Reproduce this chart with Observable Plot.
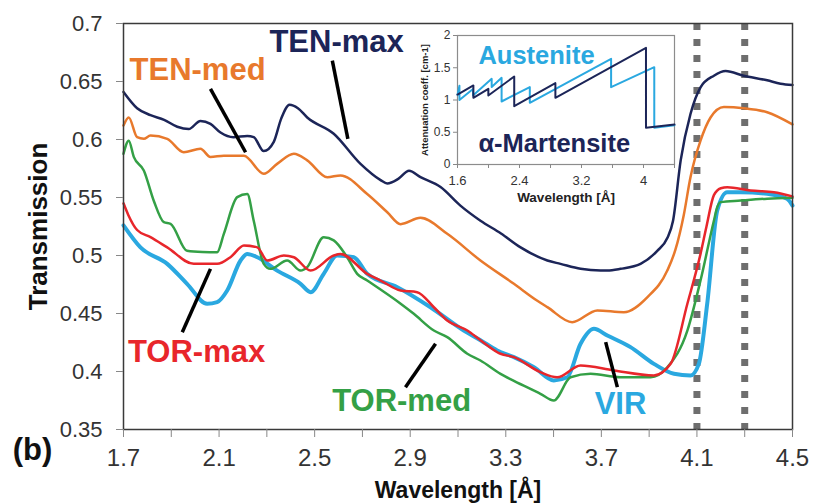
<!DOCTYPE html>
<html>
<head>
<meta charset="utf-8">
<script src="https://cdn.jsdelivr.net/npm/d3@7"></script>
<script src="https://cdn.jsdelivr.net/npm/@observablehq/plot@0.6"></script>
<style>
  html, body { margin: 0; padding: 0; background: #ffffff; }
  #wrap { position: relative; width: 814px; height: 504px; overflow: hidden; font-family: "Liberation Sans", Arial, sans-serif; }
  #inset { position: absolute; left: 415px; top: 25px; }
</style>
</head>
<body>
<div id="wrap"><div id="main"></div><div id="inset"></div></div>
<script>
// ---------- main chart data ----------
const xTicks = [1.7, 2.1, 2.5, 2.9, 3.3, 3.7, 4.1, 4.5];
const xTickLabels = ["1.7", "2.1", "2.5", "2.9", "3.3", "3.7", "4.1", "4.5"];
const xMinorTicks = [1.9, 2.3, 2.7, 3.1, 3.5, 3.9, 4.3];
const yTicks = [0.35, 0.4, 0.45, 0.5, 0.55, 0.6, 0.65, 0.7];
const yTickLabels = ["0.35", "0.4", "0.45", "0.5", "0.55", "0.6", "0.65", "0.7"];
const edgeLines = [4.1, 4.3];

const tenMaxWl = [1.70,1.757,1.813,1.87,1.925,1.973,2.022,2.064,2.106,2.16,2.218,2.245,2.287,2.329,2.36,2.395,2.43,2.469,2.58,2.692,2.776,2.804,2.85,2.895,2.943,3.027,3.11,3.194,3.28,3.362,3.474,3.529,3.613,3.697,3.725,3.78,3.864,3.934,3.976,4.0,4.032,4.073,4.115,4.171,4.22,4.296,4.394,4.45,4.5];
const tenMaxT  = [0.641,0.627,0.621,0.617,0.611,0.609,0.616,0.6135,0.606,0.602,0.603,0.602,0.590,0.598,0.618,0.630,0.627,0.619,0.605,0.579,0.565,0.562,0.566,0.573,0.5675,0.559,0.543,0.530,0.519,0.507,0.4957,0.4928,0.4885,0.487,0.487,0.4885,0.4928,0.504,0.515,0.530,0.582,0.622,0.645,0.655,0.659,0.655,0.651,0.648,0.647];

const tenMedWl = [1.70,1.722,1.757,1.785,1.813,1.883,1.952,2.022,2.064,2.12,2.204,2.287,2.343,2.413,2.469,2.553,2.608,2.72,2.804,2.86,2.943,3.055,3.194,3.334,3.432,3.474,3.578,3.683,3.794,3.892,3.976,4.01,4.045,4.073,4.115,4.157,4.213,4.296,4.394,4.5];
const tenMedT  = [0.612,0.619,0.602,0.6006,0.6034,0.6006,0.589,0.592,0.585,0.586,0.586,0.5704,0.579,0.5877,0.582,0.5675,0.569,0.553,0.5373,0.527,0.5325,0.5187,0.4957,0.4756,0.461,0.4555,0.4425,0.4526,0.4511,0.464,0.487,0.505,0.535,0.5675,0.599,0.619,0.628,0.627,0.6235,0.613];

const torMedWl = [1.70,1.722,1.743,1.785,1.827,1.869,1.897,1.966,2.03,2.092,2.12,2.176,2.218,2.245,2.287,2.315,2.385,2.441,2.469,2.538,2.58,2.636,2.678,2.72,2.86,2.915,2.999,3.055,3.139,3.194,3.278,3.334,3.445,3.501,3.571,3.655,3.78,3.906,3.976,4.06,4.115,4.171,4.185,4.199,4.283,4.394,4.5];
const torMedT  = [0.5877,0.599,0.585,0.5733,0.547,0.5287,0.5273,0.504,0.503,0.5028,0.5187,0.5503,0.553,0.530,0.4928,0.4885,0.4957,0.487,0.49,0.5158,0.513,0.4985,0.4842,0.4784,0.4584,0.4497,0.4353,0.4296,0.4153,0.4095,0.398,0.392,0.3808,0.375,0.395,0.398,0.395,0.395,0.4037,0.4353,0.4784,0.530,0.5417,0.546,0.5474,0.549,0.5497];

const torMaxWl = [1.70,1.72,1.757,1.813,1.883,1.994,2.092,2.15,2.204,2.26,2.302,2.371,2.413,2.483,2.58,2.608,2.72,2.776,2.86,2.929,2.999,3.055,3.139,3.194,3.278,3.334,3.445,3.515,3.613,3.752,3.92,3.99,4.06,4.115,4.14,4.171,4.2,4.227,4.325,4.422,4.5];
const torMaxT  = [0.545,0.535,0.522,0.5158,0.507,0.4928,0.4928,0.499,0.5086,0.507,0.4957,0.5,0.4985,0.487,0.5,0.5014,0.4842,0.4784,0.4698,0.4684,0.4554,0.444,0.4353,0.427,0.4153,0.4124,0.3994,0.395,0.4052,0.4009,0.3966,0.4066,0.4584,0.5014,0.525,0.552,0.558,0.5589,0.556,0.5546,0.551];

const virWl = [1.70,1.771,1.883,1.966,2.05,2.092,2.134,2.19,2.218,2.26,2.343,2.441,2.483,2.538,2.594,2.664,2.72,2.846,2.985,3.124,3.194,3.264,3.334,3.418,3.501,3.557,3.613,3.669,3.725,3.822,3.92,4.004,4.073,4.108,4.143,4.185,4.227,4.283,4.394,4.477,4.5];
const virT  = [0.526,0.507,0.4928,0.4756,0.4584,0.4598,0.4698,0.4957,0.5014,0.4985,0.487,0.4756,0.4684,0.4842,0.5,0.4985,0.4842,0.4727,0.4554,0.4353,0.427,0.4181,0.4124,0.4037,0.3923,0.395,0.4239,0.4368,0.431,0.421,0.4066,0.398,0.3966,0.4066,0.4584,0.5388,0.5546,0.5546,0.5532,0.5489,0.543];

const seriesNames  = ["VIR", "TOR-med", "TOR-max", "TEN-med", "TEN-max"];
const seriesColors = ["#2aa8e0", "#34a046", "#e8262b", "#e8792c", "#1c2558"];
const seriesWidths = [4, 2.5, 2.5, 2.5, 2.5];
const seriesWl = [virWl, torMedWl, torMaxWl, tenMedWl, tenMaxWl];
const seriesT  = [virT, torMedT, torMaxT, tenMedT, tenMaxT];

// annotation labels (data coordinates) and leader lines
const labelText  = ["TEN-max", "TEN-med", "TOR-max", "TOR-med", "VIR"];
const labelColor = ["#1c2558", "#e8792c", "#e8262b", "#34a046", "#2aa8e0"];
const labelWl    = [2.592, 2.010, 2.006, 2.864, 3.780];
const labelT     = [0.6836, 0.6595, 0.4164, 0.3741, 0.3716];
const leaderWl1  = [2.574, 2.064, 2.064, 3.006, 3.718];
const leaderT1   = [0.668, 0.6437, 0.4885, 0.4239, 0.4253];
const leaderWl2  = [2.639, 2.211, 1.946, 2.880, 3.767];
const leaderT2   = [0.6006, 0.589, 0.4339, 0.3865, 0.3865];

// ---------- inset data ----------
const insetXTicks = [1.6, 2.0, 2.4, 2.8, 3.2, 3.6, 4.0, 4.4];
const insetXTickLabels = ["1.6", "", "2.4", "", "3.2", "", "4", ""];
const insetYTicks = [0, 0.5, 1, 1.5, 2];
const insetYTickLabels = ["0", "0.5", "1", "1.5", "2"];
const martWl = [1.6, 1.805, 1.805, 1.998, 1.998, 2.332, 2.332, 2.863, 2.863, 4.032, 4.032, 4.4];
const martMu = [1.085, 1.225, 1.034, 1.173, 1.07, 1.364, 0.904, 1.261, 1.034, 1.809, 0.568, 0.62];
const austWl = [1.6, 1.625, 1.625, 1.80, 1.80, 2.041, 2.041, 2.169, 2.169, 2.533, 2.533, 3.582, 3.582, 4.139, 4.139, 4.4];
const austMu = [1.08, 1.22, 1.0, 1.17, 1.07, 1.328, 1.2, 1.344, 0.977, 1.199, 0.956, 1.638, 1.199, 1.509, 0.568, 0.61];
const insetLabels = ["Austenite", "α-Martensite"];
const insetLabelColors = ["#2aa8e0", "#1c2558"];
const insetLabelWl = [1.87, 1.87];
const insetLabelMu = [1.69, 0.326];

// ---------- build tables ----------
const rows = [];
seriesNames.forEach((name, i) => {
  seriesWl[i].forEach((w, j) => rows.push({series: name, wl: w, t: seriesT[i][j]}));
});
const labels = labelText.map((s, i) => ({text: s, color: labelColor[i], wl: labelWl[i], t: labelT[i]}));
const leaders = labelText.map((s, i) => ({x1: leaderWl1[i], y1: leaderT1[i], x2: leaderWl2[i], y2: leaderT2[i]}));

const font = "'Liberation Sans', Arial, sans-serif";

const lineMarks = seriesNames.map((name, i) =>
  Plot.line(rows.filter(r => r.series === name), {
    x: "wl", y: "t", stroke: seriesColors[i], strokeWidth: seriesWidths[i],
    curve: "monotone-x", strokeLinejoin: "round", strokeLinecap: "round"
  })
);

const main = Plot.plot({
  width: 814, height: 504,
  marginLeft: 123, marginRight: 22, marginTop: 23, marginBottom: 75,
  style: {background: "transparent", fontFamily: font, overflow: "visible", color: "#333"},
  x: {domain: [1.7, 4.5], label: null},
  y: {domain: [0.35, 0.7], label: null},
  marks: [
    Plot.frame({fill: "white", stroke: "none"}),
    Plot.ruleX(edgeLines, {x: d => d, stroke: "#6e6e6e", strokeWidth: 7, strokeDasharray: "7,9"}),
    ...lineMarks,
    Plot.link(leaders, {x1: "x1", y1: "y1", x2: "x2", y2: "y2", stroke: "black", strokeWidth: 3.5}),
    Plot.text(labels, {x: "wl", y: "t", text: "text", fill: "color", fontSize: 31, fontWeight: "bold"}),
    Plot.frame({stroke: "#3a3a3a", strokeWidth: 1.5}),
    Plot.axisX(xTicks, {tickSize: 8, tickPadding: 11, fontSize: 24, stroke: "#888", fill: "#333",
      tickFormat: (d, i) => xTickLabels[i], label: null}),
    Plot.axisX(xMinorTicks, {tickSize: 8, stroke: "#888", tickFormat: () => "", label: null}),
    Plot.axisY(yTicks, {tickSize: 7, tickPadding: 14, fontSize: 22, stroke: "#888", fill: "#333",
      tickFormat: (d, i) => yTickLabels[i], label: null}),
    Plot.text(["Wavelength [Å]"], {frameAnchor: "bottom", dy: 61, textAnchor: "middle", lineAnchor: "middle", fontSize: 23, fontWeight: "bold", fill: "#111"}),
    Plot.text(["Transmission"], {frameAnchor: "left", dx: -85, rotate: -90, textAnchor: "middle", lineAnchor: "middle", fontSize: 26, fontWeight: "bold", fill: "#111"}),
    Plot.text(["(b)"], {frameAnchor: "bottom-left", dx: -91, dy: 21, textAnchor: "middle", lineAnchor: "middle", fontSize: 31, fontWeight: "bold", fill: "#111"})
  ]
});
document.getElementById("main").appendChild(main);

// ---------- inset ----------
const martRows = martWl.map((w, i) => ({wl: w, mu: martMu[i]}));
const austRows = austWl.map((w, i) => ({wl: w, mu: austMu[i]}));
const insetLabelRows = insetLabels.map((s, i) => ({text: s, color: insetLabelColors[i], wl: insetLabelWl[i], mu: insetLabelMu[i]}));

const inset = Plot.plot({
  width: 262, height: 190,
  marginLeft: 42, marginRight: 3, marginTop: 10, marginBottom: 51,
  style: {background: "transparent", fontFamily: font, overflow: "visible", color: "#333"},
  x: {domain: [1.6, 4.4], label: null},
  y: {domain: [0, 2], label: null},
  marks: [
    Plot.frame({fill: "white", stroke: "#8c8c8c", strokeWidth: 1.2}),
    Plot.line(austRows, {x: "wl", y: "mu", stroke: "#2aa8e0", strokeWidth: 2}),
    Plot.line(martRows, {x: "wl", y: "mu", stroke: "#1c2558", strokeWidth: 2}),
    Plot.text(insetLabelRows, {x: "wl", y: "mu", text: "text", fill: "color", textAnchor: "start", fontSize: 25.5, fontWeight: "bold"}),
    Plot.axisX(insetXTicks, {tickSize: 4, tickPadding: 7, fontSize: 13, stroke: "#888", fill: "#333",
      tickFormat: (d, i) => insetXTickLabels[i], label: null}),
    Plot.axisY(insetYTicks, {tickSize: 4, tickPadding: 3, fontSize: 12, stroke: "#888", fill: "#333",
      tickFormat: (d, i) => insetYTickLabels[i], label: null}),
    Plot.text(["Wavelength [Å]"], {frameAnchor: "bottom", dy: 33, textAnchor: "middle", lineAnchor: "middle", fontSize: 13.5, fontWeight: "bold", fill: "#222"}),
    Plot.text(["Attenuation coeff. [cm-1]"], {frameAnchor: "left", dx: -33, rotate: -90, textAnchor: "middle", lineAnchor: "middle", fontSize: 9.5, fontWeight: "bold", fill: "#222"})
  ]
});
document.getElementById("inset").appendChild(inset);
</script>
</body>
</html>
